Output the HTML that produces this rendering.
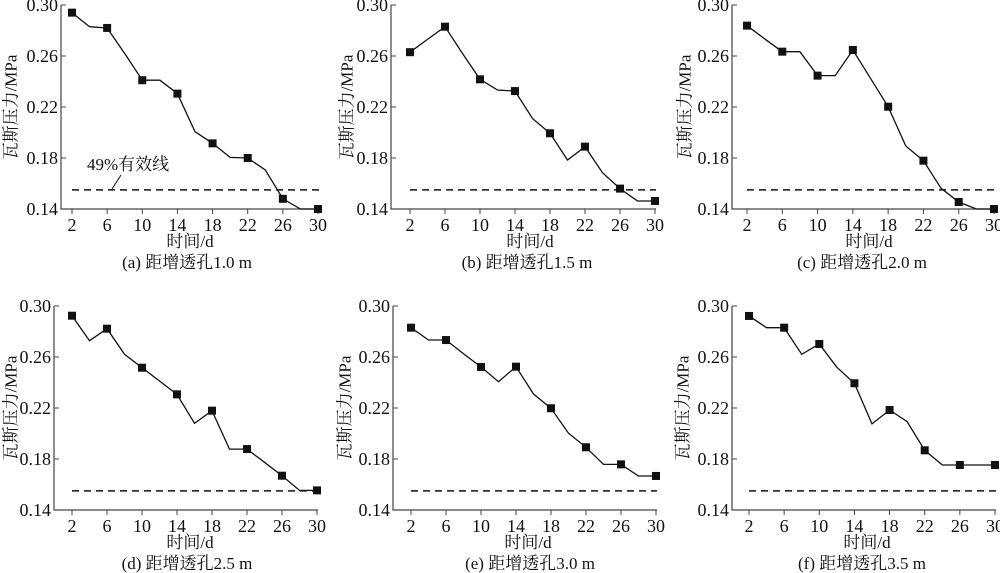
<!DOCTYPE html>
<html><head><meta charset="utf-8"><style>
html,body{margin:0;padding:0;background:#fff;}
svg{display:block;}
text{font-family:"Liberation Serif","Noto Serif CJK SC",serif;fill:#111;}
</style></head><body>
<svg id="c" width="1000" height="573" viewBox="0 0 1000 573" xmlns="http://www.w3.org/2000/svg"></svg>
<script>
const days=[2,4,6,8,10,12,14,16,18,20,22,24,26,28,30];
const xTicks=[2,6,10,14,18,22,26,30];
const yTicks=[0.14,0.18,0.22,0.26,0.30];
const yTickLabels=["0.14","0.18","0.22","0.26","0.30"];
const threshold=0.155;
const seriesA=[0.294,0.283,0.282,0.262,0.241,0.241,0.2305,0.2006,0.1915,0.1805,0.180,0.1706,0.148,0.140,0.140];
const seriesB=[0.263,0.273,0.283,0.262,0.2417,0.2333,0.2325,0.211,0.1994,0.1784,0.1889,0.1685,0.156,0.1463,0.1463];
const seriesC=[0.2838,0.2735,0.2634,0.2634,0.2446,0.2446,0.2647,0.2425,0.2202,0.1894,0.1779,0.1562,0.1455,0.140,0.140];
const seriesD=[0.2924,0.2728,0.2822,0.2621,0.2516,0.2412,0.2307,0.208,0.2179,0.1878,0.1878,0.1774,0.1669,0.1554,0.1554];
const seriesE=[0.283,0.2733,0.2733,0.2626,0.2522,0.2406,0.2524,0.231,0.2198,0.2002,0.1892,0.1758,0.1758,0.1667,0.1667];
const seriesF=[0.2922,0.283,0.283,0.2621,0.2702,0.2519,0.2394,0.2075,0.2184,0.2093,0.1868,0.1753,0.1753,0.1753,0.1753];
const captions=["(a)  距增透孔1.0 m","(b)  距增透孔1.5 m","(c)  距增透孔2.0 m","(d)  距增透孔2.5 m","(e)  距增透孔3.0 m","(f)  距增透孔3.5 m"];
const allSeries=[seriesA,seriesB,seriesC,seriesD,seriesE,seriesF];
const NS="http://www.w3.org/2000/svg";
const svg=document.getElementById('c');
function mk(tag,attrs,parent){const e=document.createElementNS(NS,tag);for(const k in attrs)e.setAttribute(k,attrs[k]);(parent||svg).appendChild(e);return e;}
const L=[
 {ax:61,x2:72,x30:318,ar:319,top:5,bot:209,yt:11,xt:190,cap:187},
 {ax:391,x2:410,x30:655,ar:656,top:5,bot:209,yt:347,xt:530,cap:527},
 {ax:732,x2:747,x30:994,ar:995,top:5,bot:209,yt:685,xt:869,cap:862},
 {ax:54,x2:72,x30:317,ar:318,top:306,bot:510,yt:11,xt:190,cap:187},
 {ax:393,x2:411,x30:656,ar:657,top:306,bot:510,yt:345,xt:528,cap:530},
 {ax:732,x2:749,x30:995,ar:996,top:306,bot:510,yt:683,xt:867,cap:862}
];
const names=['a','b','c','d','e','f'];
L.forEach((p,i)=>{
  const g=mk('g',{});
  
  
  const X=d=>p.x2+(d-2)/28*(p.x30-p.x2);
  const Y=v=>p.bot-(v-0.14)/0.16*(p.bot-p.top);
  const ax=mk('path',{d:`M${p.ax},${p.top}V${p.bot}H${p.ar}`,stroke:'#444',fill:'none','stroke-width':1.2},g);
  
  
  yTicks.forEach((t,k)=>{
    mk('line',{x1:p.ax,x2:p.ax+5,y1:Y(t),y2:Y(t),stroke:'#444'},g);
    const tx=mk('text',{x:p.ax-3,y:Y(t)+6,'text-anchor':'end','font-size':18},g);
    tx.textContent=yTickLabels[k];
    
    
  });
  xTicks.forEach(t=>{
    mk('line',{x1:X(t),x2:X(t),y1:p.bot,y2:p.bot+5,stroke:'#444'},g);
    const tx=mk('text',{x:X(t),y:p.bot+22,'text-anchor':'middle','font-size':18},g);
    tx.textContent=t;
    
    
  });
  const yc=(p.top+p.bot)/2;
  const yt=mk('text',{x:p.yt,y:yc,'text-anchor':'middle','font-size':17,transform:`rotate(-90 ${p.yt} ${yc})`,'dominant-baseline':'central'},g);
  yt.textContent='瓦斯压力/MPa';
  
  
  const xt=mk('text',{x:p.xt,y:p.bot+38,'text-anchor':'middle','font-size':17},g);
  xt.textContent='时间/d';
  
  
  const cp=mk('text',{x:p.cap,y:p.bot+59,'text-anchor':'middle','font-size':17},g);
  cp.textContent=captions[i];
  
  
  const th=mk('line',{x1:X(2),x2:X(30)+1,y1:Y(threshold),y2:Y(threshold),stroke:'#111','stroke-width':1.5,'stroke-dasharray':'7,5'},g);
  
  
  const s=allSeries[i];
  const pts=days.map((d,k)=>X(d).toFixed(1)+','+Y(s[k]).toFixed(1)).join(' ');
  const pl=mk('polyline',{points:pts,fill:'none',stroke:'#111','stroke-width':1.3},g);
  
  
  days.forEach((d,k)=>{
    if((d-2)%4!==0)return;
    const r=mk('rect',{x:X(d)-4,y:Y(s[k])-4,width:8,height:8,fill:'#111'},g);
    
    
  });
  if(i===0){
    const an=mk('text',{x:87,y:170,'font-size':17},g);
    an.textContent='49%有效线';
    
    
    const ld=mk('line',{x1:112,y1:189,x2:121,y2:175,stroke:'#111'},g);
    
    
  }
});
</script>
</body></html>
